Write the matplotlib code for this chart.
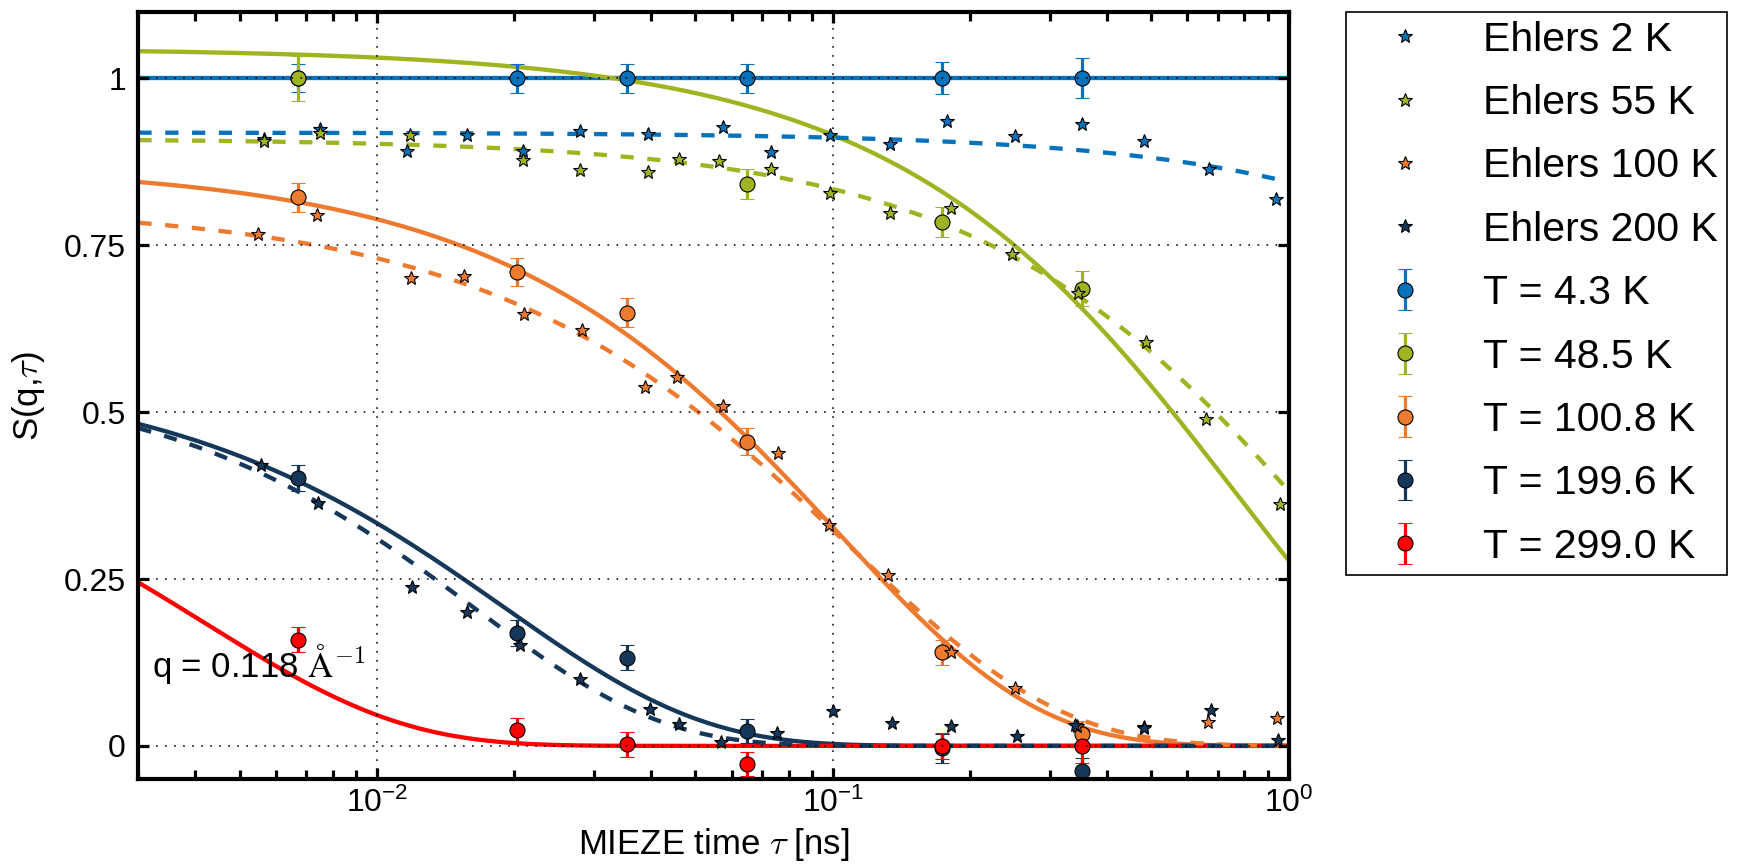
import numpy as np
import matplotlib
matplotlib.use("Agg")
import matplotlib.pyplot as plt
from matplotlib.ticker import FixedLocator, FormatStrFormatter, LogLocator, NullFormatter

plt.rcParams["font.family"] = ["Liberation Sans", "DejaVu Sans"]
plt.rcParams["mathtext.fontset"] = "cm"
plt.rcParams["lines.scale_dashes"] = False

# ---------------- MIEZE measurements ----------------
tau_mieze = [0.0067, 0.0203, 0.0353, 0.0649, 0.174, 0.352]
tau_mieze_48 = [0.0067, 0.0649, 0.174, 0.352]

S_T4p3 = [1.0, 1.0, 1.0, 1.0, 1.0, 1.0]
err_T4p3 = [0.021, 0.022, 0.022, 0.022, 0.024, 0.030]

S_T48p5 = [1.0, 0.842, 0.785, 0.685]
err_T48p5 = [0.034, 0.022, 0.022, 0.026]

S_T100p8 = [0.822, 0.710, 0.649, 0.456, 0.140, 0.0175]
err_T100p8 = [0.0215, 0.0217, 0.0217, 0.020, 0.019, 0.020]

S_T199p6 = [0.402, 0.169, 0.132, 0.023, -0.0035, -0.038]
err_T199p6 = [0.0195, 0.020, 0.019, 0.018, 0.0217, 0.020]

S_T299p0 = [0.159, 0.024, 0.0025, -0.027, 0.0, 0.0]
err_T299p0 = [0.0185, 0.018, 0.0185, 0.018, 0.020, 0.025]

labels_T = ["T = 4.3 K", "T = 48.5 K", "T = 100.8 K", "T = 199.6 K", "T = 299.0 K"]

# ---------------- Ehlers reference data ----------------
tau_E2 = [0.00567, 0.00751, 0.01164, 0.01578, 0.0209, 0.02796, 0.0393, 0.0575,
          0.0733, 0.0986, 0.1336, 0.178, 0.2514, 0.352, 0.482, 0.670, 0.936]
S_E2 = [0.910, 0.925, 0.892, 0.915, 0.892, 0.921, 0.917, 0.928,
        0.890, 0.9155, 0.902, 0.936, 0.914, 0.932, 0.906, 0.865, 0.819]

tau_E55 = [0.00567, 0.00751, 0.01184, 0.0209, 0.02796, 0.0393, 0.0461, 0.0563,
           0.0733, 0.0986, 0.1336, 0.1817, 0.2478, 0.346, 0.487, 0.659, 0.955]
S_E55 = [0.907, 0.918, 0.915, 0.878, 0.863, 0.860, 0.880, 0.877,
         0.865, 0.828, 0.798, 0.806, 0.7375, 0.678, 0.605, 0.4905, 0.363]

tau_E100 = [0.0055, 0.0074, 0.01187, 0.0155, 0.0210, 0.0282, 0.0388, 0.0455, 0.0575,
            0.0760, 0.0982, 0.1322, 0.1817, 0.2514, 0.343, 0.482, 0.666, 0.942]
S_E100 = [0.7675, 0.796, 0.7016, 0.704, 0.6477, 0.6228, 0.537, 0.552, 0.509,
          0.439, 0.331, 0.256, 0.140, 0.0873, 0.030, 0.028, 0.0364, 0.0424]

tau_E200 = [0.00556, 0.00743, 0.01192, 0.01578, 0.02057, 0.02786, 0.0398, 0.0461, 0.057,
            0.0756, 0.1003, 0.135, 0.1817, 0.2535, 0.340, 0.482, 0.675, 0.95]
S_E200 = [0.4207, 0.364, 0.2385, 0.200, 0.151, 0.1003, 0.0549, 0.0329, 0.0065,
          0.019, 0.0529, 0.035, 0.0304, 0.0155, 0.0314, 0.0265, 0.0539, 0.009]

labels_E = ["Ehlers 2 K", "Ehlers 55 K", "Ehlers 100 K", "Ehlers 200 K"]

# ---------------- stretched-exponential fit parameters ----------------
# S(tau) = A * exp(-(tau / tau0) ** beta)
fitT_A = [1.0, 1.045, 0.87, 0.565, 0.50]
fitT_tau0 = [np.inf, 0.755, 0.1025, 0.019, 0.0042]
fitT_beta = [1.0, 1.0, 1.0, 1.0, 1.0]

fitE_A = [0.919, 0.91, 0.81, 0.56]
fitE_tau0 = [11.9, 1.152, 0.1093, 0.0164]
fitE_beta = [1.0, 1.0, 0.95, 1.07]

colors = ["#0672BC", "#A0B320", "#EE7A30", "#15385A", "#FF0000"]


def kww(t, A, tau0, beta):
    return A * np.exp(-(t / tau0) ** beta)


fig = plt.figure(figsize=(17.48, 8.67), dpi=100)
ax = fig.add_axes([0.0792, 0.1012, 0.658, 0.8853])
ax.set_xscale("log")
ax.set_xlim(0.003, 1.0)
ax.set_ylim(-0.05, 1.1)

t_fine = np.logspace(np.log10(0.003), 0, 400)
lw = 3.1

# solid fits to MIEZE data
for A, t0, b, c in zip(fitT_A, fitT_tau0, fitT_beta, colors):
    ax.plot(t_fine, kww(t_fine, A, t0, b), "-", color=c, lw=lw, zorder=1.5)

# dashed fits to Ehlers data
for A, t0, b, c in zip(fitE_A, fitE_tau0, fitE_beta, colors):
    ax.plot(t_fine, kww(t_fine, A, t0, b), color=c, lw=lw, zorder=1.6,
            linestyle=(0, (9.5, 9.8)))

# MIEZE points with error bars
series_T = [(tau_mieze, S_T4p3, err_T4p3), (tau_mieze_48, S_T48p5, err_T48p5),
            (tau_mieze, S_T100p8, err_T100p8), (tau_mieze, S_T199p6, err_T199p6),
            (tau_mieze, S_T299p0, err_T299p0)]
eb_handles = []
for (tx, sy, ey), c, lab in zip(series_T, colors, labels_T):
    h = ax.errorbar(tx, sy, yerr=ey, fmt="o", color=c, mfc=c, mec="k", mew=0.8,
                    ms=10.8, elinewidth=2.3, capsize=4.7, capthick=1.5, label=lab,
                    zorder=2)
    eb_handles.append(h)

# Ehlers points
series_E = [(tau_E2, S_E2), (tau_E55, S_E55), (tau_E100, S_E100), (tau_E200, S_E200)]
star_handles = []
for (tx, sy), c, lab in zip(series_E, colors, labels_E):
    h, = ax.plot(tx, sy, linestyle="none", marker="*", ms=10.8, mfc=c, mec="k",
                 mew=0.8, label=lab, zorder=2.1)
    star_handles.append(h)

# axes styling
for sp in ax.spines.values():
    sp.set_linewidth(3.0)
    sp.set_zorder(5)

ax.yaxis.set_major_locator(FixedLocator([0, 0.25, 0.5, 0.75, 1.0]))
ax.yaxis.set_major_formatter(FormatStrFormatter("%g"))
ax.xaxis.set_major_locator(LogLocator(base=10))
ax.xaxis.set_minor_locator(LogLocator(base=10, subs=np.arange(2, 10)))
ax.xaxis.set_minor_formatter(NullFormatter())

ax.tick_params(which="both", direction="in", top=True, right=True, width=2.3,
               labelsize=23)
ax.tick_params(which="major", length=8)
ax.tick_params(which="minor", length=6.5)
ax.tick_params(axis="y", pad=9)
ax.tick_params(axis="x", pad=6)

ax.grid(True, which="major", color="k", linewidth=1.1, linestyle=(0, (1.2, 5.3)))
ax.set_axisbelow(False)

ax.set_xlabel(r"MIEZE time $\tau$ [ns]", fontsize=25)
ax.set_ylabel(r"S(q,$\tau$)", fontsize=25)
ax.xaxis.set_label_coords(0.5, -0.061)
ax.yaxis.set_label_coords(-0.0795, 0.5)

ax.text(0.00321, 0.103, r"q = 0.118 $\mathrm{\AA}^{-1}$", fontsize=25,
        va="baseline", ha="left", zorder=3)

leg = ax.legend(star_handles + eb_handles, labels_E + labels_T,
                loc="upper left", bbox_to_anchor=(1346 / 1748, 1 - 11.5 / 867),
                bbox_transform=fig.transFigure, borderaxespad=0, fontsize=29.5,
                frameon=True, fancybox=False, edgecolor="k", framealpha=1,
                borderpad=0.22, labelspacing=0.62, handlelength=2.45,
                handletextpad=0.68, numpoints=1)
leg.get_frame().set_linewidth(1.2)

fig.savefig("out.png", dpi=100)
